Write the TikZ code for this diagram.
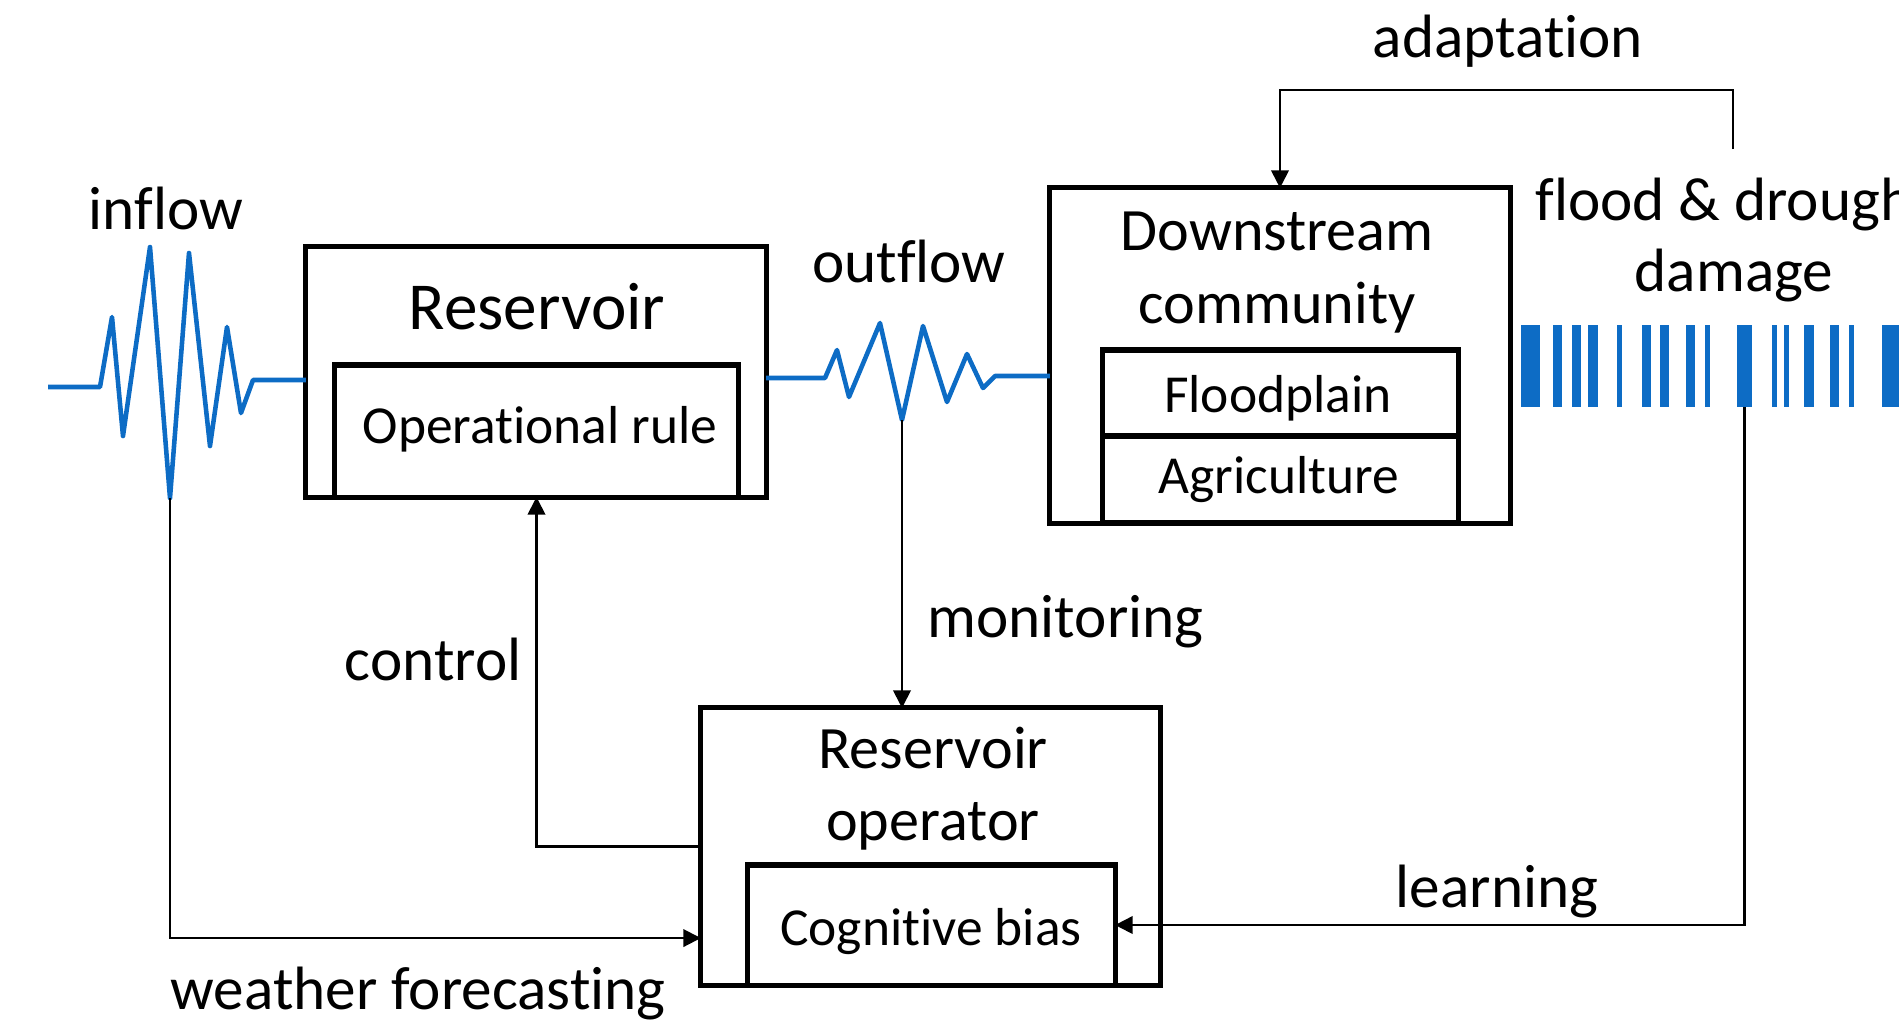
\documentclass[tikz,border=0pt]{standalone}
\usepackage{fontspec}
\setmainfont{Carlito}[Ligatures={NoCommon,NoRare}]
\usetikzlibrary{arrows.meta}
\definecolor{waterblue}{RGB}{13,108,197}
% keeps two letters apart (no ligature)
\newcommand{\nolig}{\kern0pt{}}
\tikzset{
  box/.style={draw, line width=1.45pt, inner sep=0pt, outer sep=0pt},
  wave/.style={draw=waterblue, line width=1.3pt, line join=round},
  bar/.style={fill=waterblue, draw=none},
  conn/.style={draw, line width=0.6pt, -{Triangle[length=5pt,width=5pt]}},
  lbl/.style={font=\fontsize{17.4pt}{21pt}\selectfont, inner sep=0pt, anchor=base},
  ttl/.style={font=\fontsize{17.1pt}{21pt}\selectfont, inner sep=0pt, anchor=base},
  bigttl/.style={font=\fontsize{19.1pt}{23pt}\selectfont, inner sep=0pt, anchor=base},
  subttl/.style={font=\fontsize{15.2pt}{18pt}\selectfont, inner sep=0pt, anchor=base},
}
\begin{document}
\begin{tikzpicture}[x=0.01cm, y=-0.01cm]
\useasboundingbox (0,0) rectangle (1899,1023);
\clip (0,0) rectangle (1899,1023);

% main blocks
\node[box, minimum width=4.60cm, minimum height=2.50cm] (res) at (536,372) {};
\node[box, minimum width=4.03cm, minimum height=1.32cm] (rule) at (536.5,431) {};
\node[box, minimum width=4.60cm, minimum height=3.35cm] (down) at (1280,355.5) {};
\node[box, minimum width=3.55cm, minimum height=0.86cm] (flood) at (1280.5,393) {};
\node[box, minimum width=3.55cm, minimum height=0.87cm] (agri) at (1280.5,479.5) {};
\node[box, minimum width=4.59cm, minimum height=2.77cm] (oper) at (930.5,846.5) {};
\node[box, minimum width=3.67cm, minimum height=1.20cm] (bias) at (931.5,925) {};

% block texts
\node[bigttl] (restxt) at (537,329) {Reservoir};
\node[subttl] (ruletxt) at (540,443) {Operat\nolig ional rule};
\node[ttl] (downtxt1) at (1277,250) {Downstream};
\node[ttl] (downtxt2) at (1277,323) {community};
\node[subttl] (floodtxt) at (1278,412) {Floodplain};
\node[subttl] (agritxt) at (1279,493) {Agriculture};
\node[ttl] (opertxt1) at (933,768) {Reservoir};
\node[ttl] (opertxt2) at (933,840) {operator};
\node[subttl] (biastxt) at (931,945) {Cognit\nolig ive bias};

% inflow hydrograph
\draw[wave] (48,387) -- (100,387) -- (112,317) -- (123,436) -- (150,247)
  -- (170,498) coordinate (inlow) -- (189,253) -- (210,446) -- (227,327)
  -- (241,413) -- (253,380) -- (res.west |- 0,380);
% outflow hydrograph
\draw[wave] (res.east |- 0,378) -- (825,378) -- (837,350) -- (849,397) -- (880,323)
  -- (902,420) coordinate (outlow) -- (923,326) -- (947,402) -- (967,354)
  -- (983,388) -- (995,376) -- (down.west |- 0,376);

% flood and drought damage events
\foreach \a/\b in {1521/1540,1553/1562,1572/1581,1588/1598,1617/1622,
    1642/1651,1660/1669,1686/1695,1705/1710,1737/1752,1772/1777,1784/1789,
    1804/1814,1830/1839,1849/1854,1882/1905}
  \path[bar] (\a,325) rectangle (\b,407);
\coordinate (dmgfoot) at (1744.5,407);

% feedback loops
\draw[conn] (inlow) |- ([yshift=-0.915cm]oper.west);
\draw[conn] (oper.west) -| (rule.south);
\draw[conn] (outlow) -- (outlow |- oper.north);
\draw[conn] (dmgfoot) |- (bias.east);
\coordinate (adfoot) at (1733,149);
\coordinate (adtop) at (1733,90);
\draw[conn] (adfoot) -- (adtop) -| (down.north);

% labels
\node[lbl] (inflowlbl) at (166,229) {inf\nolig low};
\node[lbl] (outflowlbl) at (909,282) {outf\nolig low};
\node[lbl] (adaptlbl) at (1508,57) {adaptat\nolig ion};
\node[lbl] (dmglbl1) at (1734,220) {f\nolig lood \& drought};
\node[lbl] (dmglbl2) at (1734,291) {damage};
\node[lbl, anchor=base west] (monlbl) at (927,637) {monitoring};
\node[lbl, anchor=base east] (ctrllbl) at (522,680) {control};
\node[lbl] (learnlbl) at (1497,907) {learning};
\node[lbl, anchor=base west] (wxlbl) at (170,1009) {weather forecast\nolig ing};
\end{tikzpicture}
\end{document}
